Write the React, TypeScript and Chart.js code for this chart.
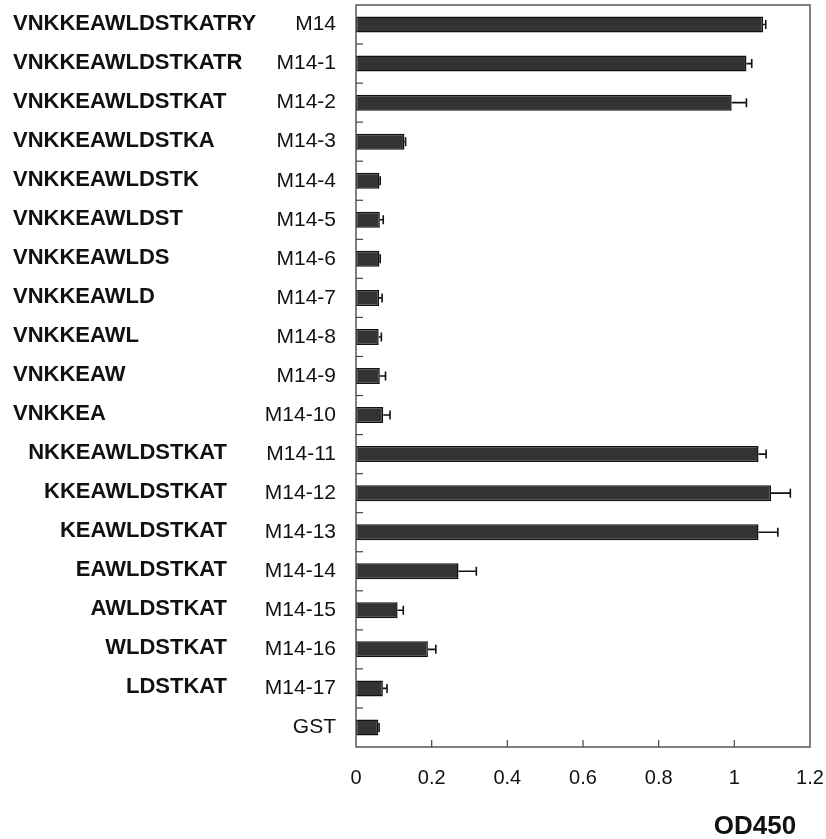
import React, { useEffect, useRef } from "react";
import { Chart, registerables } from "chart.js";

Chart.register(...registerables);

const categories = [
  "M14", "M14-1", "M14-2", "M14-3", "M14-4", "M14-5", "M14-6", "M14-7", "M14-8", "M14-9",
  "M14-10", "M14-11", "M14-12", "M14-13", "M14-14", "M14-15", "M14-16", "M14-17", "GST",
];
const sequences = [
  "VNKKEAWLDSTKATRY", "VNKKEAWLDSTKATR", "VNKKEAWLDSTKAT", "VNKKEAWLDSTKA", "VNKKEAWLDSTK",
  "VNKKEAWLDST", "VNKKEAWLDS", "VNKKEAWLD", "VNKKEAWL", "VNKKEAW", "VNKKEA",
  "NKKEAWLDSTKAT", "KKEAWLDSTKAT", "KEAWLDSTKAT", "EAWLDSTKAT", "AWLDSTKAT", "WLDSTKAT", "LDSTKAT", "",
];
const LEFT_ALIGNED_COUNT = 11;
const od450 = [
  1.076, 1.032, 0.993, 0.128, 0.062, 0.063, 0.062, 0.061, 0.060, 0.063,
  0.072, 1.064, 1.097, 1.064, 0.271, 0.110, 0.190, 0.071, 0.059,
];
const errors = [
  0.007, 0.014, 0.039, 0.003, 0.002, 0.009, 0.002, 0.008, 0.007, 0.015,
  0.018, 0.020, 0.051, 0.051, 0.047, 0.015, 0.021, 0.011, 0.002,
];
const xTicks = [0, 0.2, 0.4, 0.6, 0.8, 1, 1.2];
const xTitle = "OD450";

const FONT = "'Liberation Sans', Arial, sans-serif";

const decorPlugin = {
  id: "decor",
  afterDatasetsDraw(chart: any) {
    const ctx = chart.ctx;
    const area = chart.chartArea;
    const xs = chart.scales.x;
    const ys = chart.scales.y;
    ctx.save();
    // error bars
    const meta = chart.getDatasetMeta(0);
    ctx.strokeStyle = "#111";
    ctx.lineWidth = 1.6;
    meta.data.forEach((bar: any, i: number) => {
      const x0 = xs.getPixelForValue(od450[i]);
      const x1 = xs.getPixelForValue(od450[i] + errors[i]);
      const y = bar.y;
      ctx.beginPath();
      ctx.moveTo(x0, y);
      ctx.lineTo(x1, y);
      ctx.moveTo(x1, y - 4.5);
      ctx.lineTo(x1, y + 4.5);
      ctx.stroke();
    });
    // frame
    ctx.strokeStyle = "#555";
    ctx.lineWidth = 1.5;
    ctx.strokeRect(area.left, area.top, area.right - area.left, area.bottom - area.top);
    // inward category ticks
    ctx.lineWidth = 1.2;
    ctx.strokeStyle = "#444";
    for (let i = 0; i < categories.length - 1; i++) {
      const yb = (ys.getPixelForValue(i) + ys.getPixelForValue(i + 1)) / 2;
      ctx.beginPath();
      ctx.moveTo(area.left, yb);
      ctx.lineTo(area.left + 7, yb);
      ctx.stroke();
    }
    // inward x ticks
    xTicks.slice(1, -1).forEach((v) => {
      const px = xs.getPixelForValue(v);
      ctx.beginPath();
      ctx.moveTo(px, area.bottom);
      ctx.lineTo(px, area.bottom - 7);
      ctx.stroke();
    });
    // sequence labels
    ctx.fillStyle = "#111";
    ctx.font = `bold 22px ${FONT}`;
    ctx.textBaseline = "middle";
    sequences.forEach((s, i) => {
      const y = ys.getPixelForValue(i) - 1;
      if (i < LEFT_ALIGNED_COUNT) {
        ctx.textAlign = "left";
        ctx.fillText(s, 13, y);
      } else {
        ctx.textAlign = "right";
        ctx.fillText(s, 227, y);
      }
    });
    // axis title
    ctx.font = `bold 26px ${FONT}`;
    ctx.textAlign = "center";
    ctx.fillText(xTitle, area.right - 55, area.bottom + 80);
    ctx.restore();
  },
};

export default function App() {
  const ref = useRef<HTMLCanvasElement | null>(null);
  useEffect(() => {
    document.body.style.margin = "0";
    const canvas = ref.current;
    if (!canvas) return;
    const chart = new Chart(canvas, {
      type: "bar",
      data: {
        labels: categories,
        datasets: [
          {
            data: od450,
            backgroundColor: "#333333",
            borderColor: "#111111",
            borderWidth: 1.5,
            borderSkipped: false,
            categoryPercentage: 1,
            barPercentage: 0.41,
          },
        ],
      },
      options: {
        indexAxis: "y",
        responsive: false,
        animation: false,
        devicePixelRatio: 1,
        layout: { padding: { top: 5, right: 16, left: 0, bottom: 0 } },
        plugins: { legend: { display: false }, tooltip: { enabled: false } },
        scales: {
          x: {
            type: "linear",
            min: 0,
            max: 1.2,
            afterBuildTicks: (scale: any) => {
              scale.ticks = xTicks.map((v) => ({ value: v }));
            },
            afterFit: (scale: any) => {
              scale.height = 92;
              scale.paddingLeft = 0;
              scale.paddingRight = 0;
            },
            grid: { display: false, drawTicks: false },
            border: { display: false },
            ticks: {
              padding: 19,
              color: "#111",
              font: { family: FONT, size: 20 },
              callback: (v: any) => String(Math.round(Number(v) * 10) / 10),
              maxRotation: 0,
            },
          },
          y: {
            afterFit: (scale: any) => {
              scale.width = 356;
              scale.paddingTop = 0;
              scale.paddingBottom = 0;
            },
            grid: { display: false, drawTicks: false },
            border: { display: false },
            ticks: {
              padding: 20,
              color: "#111",
              font: { family: FONT, size: 21 },
            },
          },
        },
      },
      plugins: [decorPlugin],
    });
    return () => chart.destroy();
  }, []);
  return (
    <div style={{ width: 826, height: 839, background: "#fff" }}>
      <canvas ref={ref} width={826} height={839} style={{ display: "block" }} />
    </div>
  );
}
